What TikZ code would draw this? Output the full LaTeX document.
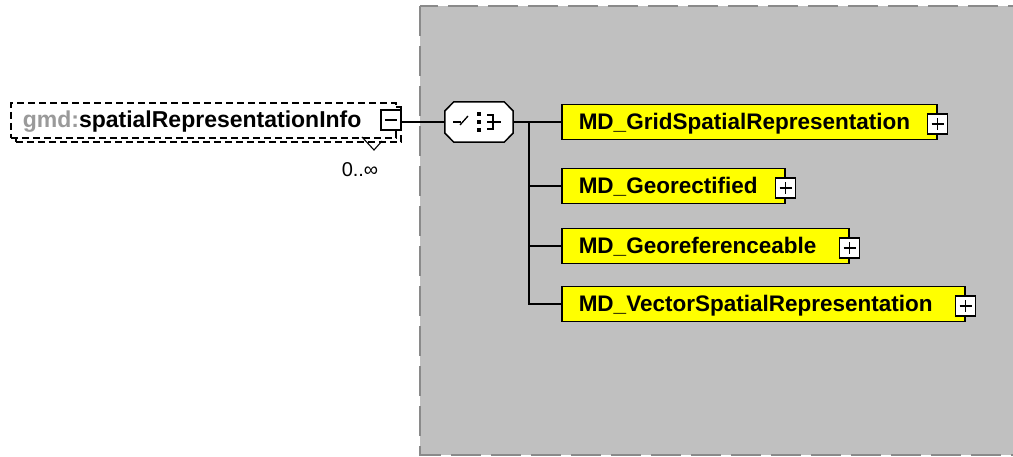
\documentclass[tikz,border=0pt]{standalone}
\usepackage{fontspec}
\setmainfont{Liberation Sans}
\usetikzlibrary{calc}
\definecolor{groupfill}{HTML}{C0C0C0}
\definecolor{groupedge}{HTML}{8A8A8A}
\definecolor{elemfill}{HTML}{FFFF00}
\definecolor{nsgray}{HTML}{9A9A9A}
\tikzset{
	elem/.style={draw=black, line width=1.5pt, fill=elemfill, anchor=west, inner xsep=17pt, inner ysep=0pt,
		minimum height=35pt, text height=18pt, text depth=3pt, align=left, font=\fontsize{22.5}{27}\selectfont\bfseries},
	srcframe/.style={draw=black, line width=1.6pt, dash pattern=on 7pt off 4pt, fill=white, anchor=north west,
		inner xsep=12pt, inner ysep=0pt, minimum width=385pt, minimum height=35pt},
	srcelem/.style={srcframe, text height=18pt, text depth=3pt, align=left, font=\fontsize{23}{27}\selectfont\bfseries},
	toggle/.style={draw=black, line width=1.4pt, fill=white, minimum width=20pt, minimum height=20pt, inner sep=0pt},
	plus/.style={toggle, path picture={
		\draw[line width=1.3pt] ([xshift=-6pt]path picture bounding box.center) -- ([xshift=6pt]path picture bounding box.center);
		\draw[line width=1.3pt] ([yshift=-6pt]path picture bounding box.center) -- ([yshift=6pt]path picture bounding box.center);}},
	minus/.style={toggle, path picture={
		\draw[line width=1.3pt] ([xshift=-6pt]path picture bounding box.center) -- ([xshift=6pt]path picture bounding box.center);}},
	seqbox/.style={minimum width=68pt, minimum height=40pt, inner sep=0pt},
	conn/.style={line width=1.5pt, draw=black}
}

\begin{document}
\begin{tikzpicture}[x=1pt, y=-1pt]
	%%%%% START %%%%%
	\useasboundingbox (0,0) rectangle (1013,457);
	
	% group background
	\draw[draw=groupedge, fill=groupfill, line width=1.5pt, dash pattern=on 30pt off 10pt] (420,6) rectangle (1040,455);
	
	% source element
	\node[srcframe] (srcback) at (15,106) {};
	\node[srcelem, text width=361pt] (src) at (10,102) {{\color{nsgray}gmd:}spatialRepresentationInfo};
	\node[minus] (collapse) at (391,120) {};
	\draw[line width=1.1pt] (362,137) -- (374,150) -- (382,141);
	\node[font=\fontsize{20}{24}\selectfont] (mult) at (360,170) {0..∞};
	
	% sequence compositor
	\node[seqbox] (seq) at (479,122) {};
	\draw[line width=1.5pt, fill=white] ($(seq.west)+(0,-11)$) -- ($(seq.north west)+(9,0)$) -- ($(seq.north east)+(-9,0)$)
		-- ($(seq.east)+(0,-11)$) -- ($(seq.east)+(0,11)$) -- ($(seq.south east)+(-9,0)$)
		-- ($(seq.south west)+(9,0)$) -- ($(seq.west)+(0,11)$) -- cycle;
	\draw[line width=1.3pt] ($(seq)+(-26,0)$) -- ($(seq)+(-18,0)$);
	\draw[line width=1.3pt] ($(seq)+(-19,3)$) -- ($(seq)+(-11,-6)$);
	\foreach \dy in {-8,0,8}
		\fill ($(seq)+(-2,\dy-2)$) rectangle ($(seq)+(2,\dy+2)$);
	\draw[line width=1.3pt] ($(seq)+(8,-7)$) -- ($(seq)+(14,-7)$) -- ($(seq)+(14,7)$) -- ($(seq)+(8,7)$);
	\draw[line width=1.3pt] ($(seq)+(8,0)$) -- ($(seq)+(22,0)$);
	
	% child elements
	\node[elem, text width=341pt] (grid) at (561,122) {MD\_GridSpatialRepresentation};
	\node[elem, text width=189pt] (rect) at (561,186) {MD\_Georectified};
	\node[elem, text width=253pt] (ref) at (561,246) {MD\_Georeferenceable};
	\node[elem, text width=369pt] (vect) at (561,304) {MD\_VectorSpatialRepresentation};
	
	\foreach \n in {grid,rect,ref,vect}
		\node[plus] (\n-exp) at ($(\n.east)+(0,2)$) {};
	
	% connectors
	\coordinate (fork) at (529,122);
	\draw[conn] (collapse.east |- seq.west) -- (seq.west);
	\draw[conn] (seq.east) -- (grid.west);
	\draw[conn] (fork) |- (rect.west);
	\draw[conn] (fork) |- (ref.west);
	\draw[conn] (fork) |- (vect.west);
	%%%%% END %%%%%
\end{tikzpicture}
\end{document}
